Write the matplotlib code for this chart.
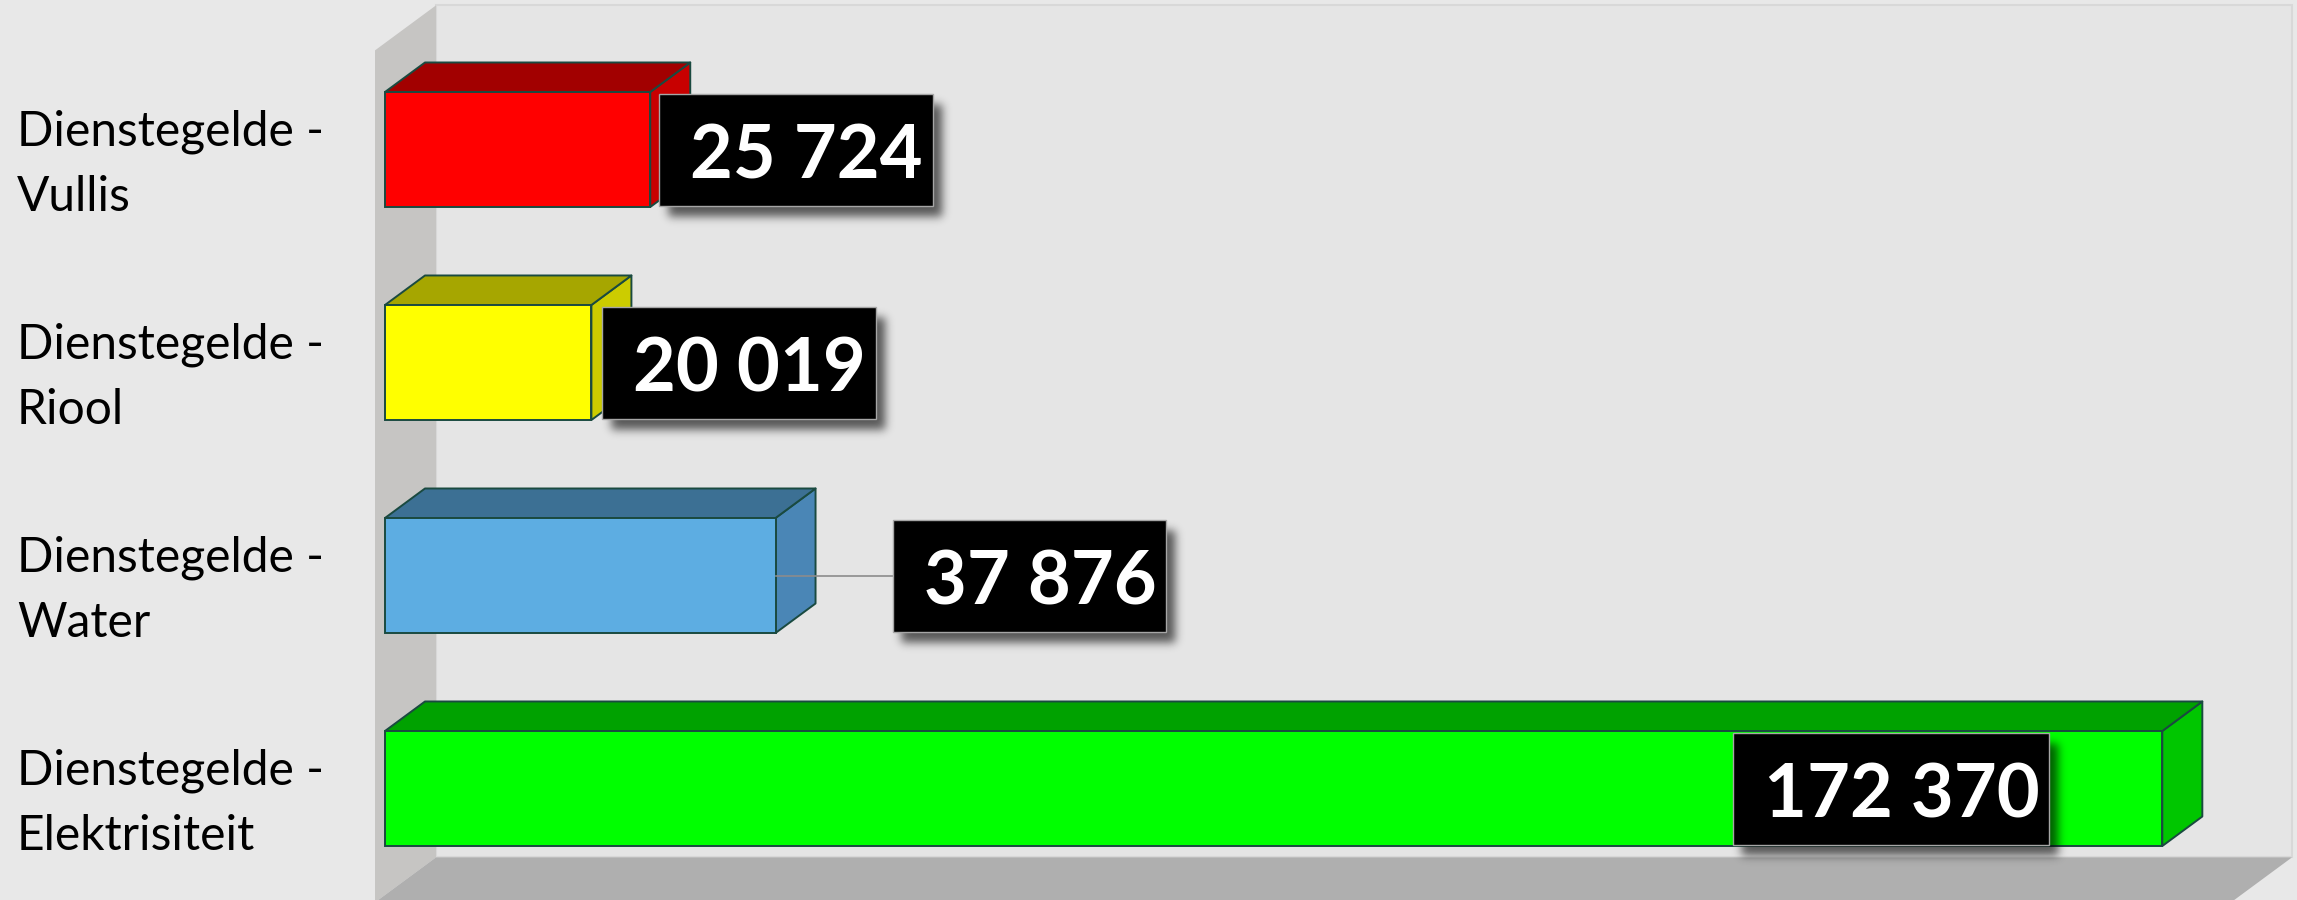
import math
import numpy as np
import matplotlib
matplotlib.use("Agg")
import matplotlib.pyplot as plt
from matplotlib.patches import Polygon, Rectangle

# ---------------- data ----------------
categories = ["Dienstegelde -\nVullis", "Dienstegelde -\nRiool",
              "Dienstegelde -\nWater", "Dienstegelde -\nElektrisiteit"]
values = [25724, 20019, 37876, 172370]
value_labels = ["25 724", "20 019", "37 876", "172 370"]
x_max = 180000

# ---------------- style ----------------
front_colors = ["#ff0000", "#ffff00", "#5dade2", "#00ff00"]
top_colors = ["#a20000", "#a6a600", "#3c7094", "#00a200"]
side_colors = ["#c80000", "#cccc00", "#4a86b6", "#00c600"]
edge_color = "#1a4a40"
label_offsets = [9, 11, 117, -113]        # px from bar end to label box
label_sides = ["left", "left", "left", "right"]

W, H = 2297, 900
fig = plt.figure(figsize=(W / 100, H / 100), dpi=100, facecolor="#e8e8e8")
ax = fig.add_axes([385 / W, 5 / H, 1856 / W, 852 / H])
n = len(values)
ax.set_xlim(0, x_max)
ax.set_ylim(n - 0.5, -0.5)
ax.axis("off")

sx = 1856 / x_max          # px per value unit
sy = 852 / n               # px per category
DX, DY = 61, 45            # px per unit depth
dv = DX / sx
dc = -DY / sy


def P(v, c, t):
    return (v + t * dv, c + t * dc)


t_front, t_bback, t_back = -10 / 61, 40 / 61, 51 / 61
c_top, c_bot = -0.5, n - 0.5

# walls
ax.add_patch(Polygon([P(0, c_top, t_back), P(x_max, c_top, t_back),
                      P(x_max, c_bot, t_back), P(0, c_bot, t_back)],
                     closed=True, fc="#e5e5e5", ec="#d8d8d8", lw=1.5,
                     clip_on=False, zorder=0))
ax.add_patch(Polygon([P(0, c_top, t_front), P(0, c_top, t_back),
                      P(0, c_bot, t_back), P(0, c_bot, t_front)],
                     closed=True, fc="#c6c5c3", ec="none",
                     clip_on=False, zorder=0.5))
ax.add_patch(Polygon([P(0, c_bot, t_front), P(0, c_bot, t_back),
                      P(x_max, c_bot, t_back), P(x_max, c_bot, t_front)],
                     closed=True, fc="#afafaf", ec="none",
                     clip_on=False, zorder=0.6))

# bars
h = 0.54
for i, v in enumerate(values):
    yt, yb = i - h / 2, i + h / 2
    ax.add_patch(Polygon([P(v, yt, 0), P(v, yt, t_bback), P(v, yb, t_bback), P(v, yb, 0)],
                         closed=True, fc=side_colors[i], ec=edge_color, lw=1.4,
                         joinstyle="round", clip_on=False, zorder=2))
    ax.add_patch(Polygon([P(0, yt, 0), P(v, yt, 0), P(v, yt, t_bback), P(0, yt, t_bback)],
                         closed=True, fc=top_colors[i], ec=edge_color, lw=1.4,
                         joinstyle="round", clip_on=False, zorder=2))
    ax.barh(i, v, height=h, left=0, color=front_colors[i], edgecolor=edge_color,
            linewidth=1.4, zorder=3, clip_on=False)

# category labels
for i, cat in enumerate(categories):
    ax.annotate(cat, xy=(17 / W, i), xycoords=("figure fraction", "data"),
                xytext=(0, -15), textcoords="offset pixels",
                ha="left", va="center", fontsize=34.5, family="Lato",
                color="black", linespacing=1.58, annotation_clip=False)

# overlay in pixel coordinates for value labels
pa = fig.add_axes([0, 0, 1, 1], zorder=5)
pa.set_xlim(0, W)
pa.set_ylim(0, H)
pa.axis("off")
pa.patch.set_alpha(0)

verf = np.vectorize(math.erf)


def shadow(x0, y0, w, hh, off=(9, -11), sigma=4.5, alpha=0.62):
    pad = 4 * sigma
    ox, oy = x0 + off[0], y0 + off[1]
    xs = np.arange(ox - pad, ox + w + pad, 1.0)
    ys = np.arange(oy - pad, oy + hh + pad, 1.0)
    s = sigma * math.sqrt(2)
    fx = 0.5 * (verf((xs - ox) / s) - verf((xs - (ox + w)) / s))
    fy = 0.5 * (verf((ys - oy) / s) - verf((ys - (oy + hh)) / s))
    img = np.zeros((len(ys), len(xs), 4))
    img[..., 3] = np.outer(fy, fx) * alpha
    pa.imshow(img, extent=(xs[0] - 0.5, xs[-1] + 0.5, ys[0] - 0.5, ys[-1] + 0.5),
              origin="lower", interpolation="bilinear", aspect="auto", zorder=1)


renderer = fig.canvas.get_renderer()
box_h = 112
for i, (v, lab) in enumerate(zip(values, value_labels)):
    ex, ey = ax.transData.transform((v, i))
    t = pa.text(0, 0, lab, fontsize=53.3, weight="bold", color="white",
                family="Lato", ha="left", va="baseline", zorder=4)
    tw = t.get_window_extent(renderer).width
    bw = tw + 41
    if label_sides[i] == "left":
        bx0 = ex + label_offsets[i]
    else:
        bx0 = ex + label_offsets[i] - bw
    by0 = ey - box_h / 2
    if label_offsets[i] > 40:
        pa.plot([ex, bx0], [ey, ey], color="#8c8c8c", lw=1.2, zorder=1.5)
    shadow(bx0, by0, bw, box_h)
    pa.add_patch(Rectangle((bx0, by0), bw, box_h, fc="black", ec="#a6a6a6",
                           lw=1.0, zorder=3))
    t.set_position((bx0 + 31, by0 + 26.7))

pa.set_xlim(0, W)
pa.set_ylim(0, H)

fig.savefig("out.png", dpi=100, facecolor=fig.get_facecolor())
